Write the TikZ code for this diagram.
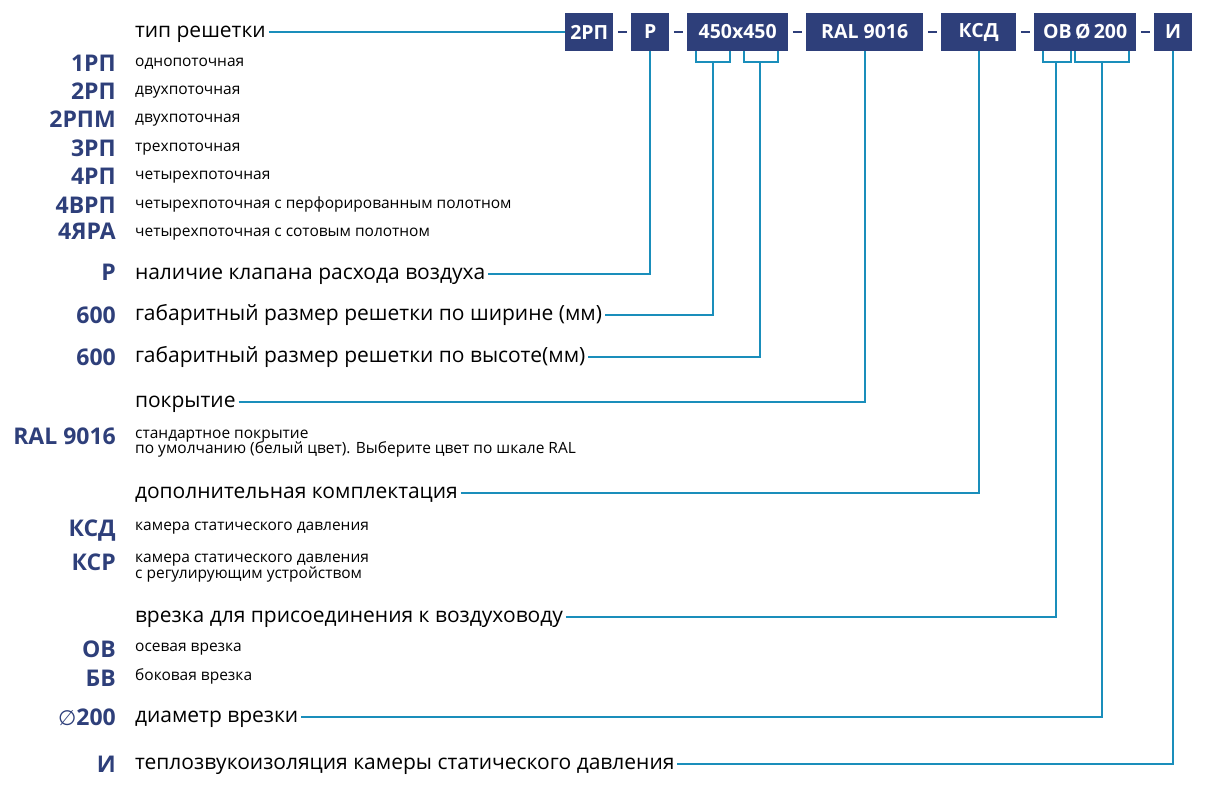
\documentclass[tikz,border=0pt]{standalone}
\usepackage{fontspec}
\setmainfont{Open Sans}
\newfontfamily\symf{DejaVu Sans}
\definecolor{navy}{HTML}{2E3F7A}
\definecolor{lnc}{HTML}{1A8EBB}
\begin{document}
\begin{tikzpicture}[x=1pt,y=-1pt,
  head/.style={anchor=west,inner sep=0pt,outer sep=3pt,text height=15pt,text depth=4pt,font=\fontsize{21}{24}\selectfont,text=black},
  code/.style={anchor=east,inner sep=0pt,text height=16.4pt,text depth=0pt,font=\fontsize{23}{25}\selectfont\bfseries,text=navy},
  desc/.style={anchor=base west,inner sep=0pt,font=\fontsize{15.5}{17}\selectfont,text=black},
  box/.style={anchor=west,fill=navy,text=white,font=\fontsize{19.5}{22}\selectfont\bfseries,minimum height=38pt,inner sep=0pt},
  conn/.style={draw=lnc,line width=1.6pt},
  sepdash/.style={draw=navy,line width=1.3pt}]
\useasboundingbox (0,0) rectangle (1218,803);

% code boxes
\node[box,minimum width=48pt]  (b1) at (565,32)  {2РП};
\node[box,minimum width=38pt]  (b2) at (631,32)  {Р};
\node[box,minimum width=101pt] (b3) at (687,32)  {450x450};
\node[box,minimum width=117pt] (b4) at (806,32)  {RAL 9016};
\node[box,minimum width=75pt]  (b5) at (941,32)  {КСД};
\node[box,minimum width=102pt] (b6) at (1034,32) {ОВ\,Ø\,200};
\node[box,minimum width=38pt]  (b7) at (1154,32) {И};
\foreach \a/\b in {b1/b2,b2/b3,b3/b4,b4/b5,b5/b6,b6/b7}
  \draw[sepdash] ([xshift=4.5pt]\a.east) -- ([xshift=-4.5pt]\b.west);

% brackets
\coordinate (k1) at (713,62);
\coordinate (k2) at (760,62);
\coordinate (k3) at (1056,62);
\coordinate (k4) at (1102,62);
\draw[conn] (696,51) -- (696,62) -- (730,62) -- (730,51);
\draw[conn] (744,51) -- (744,62) -- (778,62) -- (778,51);
\draw[conn] (1043,51) -- (1043,62) -- (1071,62) -- (1071,51);
\draw[conn] (1075,51) -- (1075,62) -- (1129,62) -- (1129,51);

% headings
\node[head] (h1) at (132,32)  {тип решетки};
\node[head] (h2) at (132,274) {наличие клапана расхода воздуха};
\node[head] (h3) at (132,315) {габаритный размер решетки по ширине (мм)};
\node[head] (h4) at (132,357) {габаритный размер решетки по высоте(мм)};
\node[head] (h5) at (132,402) {покрытие};
\node[head] (h6) at (132,493) {дополнительная комплектация};
\node[head] (h7) at (132,617) {врезка для присоединения к воздуховоду};
\node[head] (h8) at (132,717) {диаметр врезки};
\node[head] (h9) at (132,764) {теплозвукоизоляция камеры статического давления};

% connectors
\draw[conn] (h1.east) -- (b1.west);
\draw[conn] (h2.east) -| (b2.south);
\draw[conn] (h3.east) -| (k1);
\draw[conn] (h4.east) -| (k2);
\draw[conn] (h5.east) -| (b4.south);
\draw[conn] (h6.east) -| (b5.south);
\draw[conn] (h7.east) -| (k3);
\draw[conn] (h8.east) -| (k4);
\draw[conn] (h9.east) -| (b7.south);

% codes
\node[code] (c1) at (116,63)  {1РП};
\node[code] (c2) at (116,91)  {2РП};
\node[code] (c3) at (116,119) {2РПМ};
\node[code] (c4) at (116,148) {3РП};
\node[code] (c5) at (116,176) {4РП};
\node[code] (c6) at (116,205) {4ВРП};
\node[code] (c7) at (116,231) {4ЯРА};
\node[code] (c8) at (116,272) {Р};
\node[code] (c9) at (116,315) {600};
\node[code] (c10) at (116,357) {600};
\node[code] (c11) at (116,436) {RAL 9016};
\node[code] (c12) at (116,528) {КСД};
\node[code] (c13) at (116,562) {КСР};
\node[code] (c14) at (116,649) {ОВ};
\node[code] (c15) at (116,678) {БВ};
\node[code] (c16) at (116,717) {{\symf\mdseries\fontsize{21}{24}\selectfont ∅}200};
\node[code] (c17) at (116,764) {И};

% descriptions
\node[desc] (d1) at (135,66.5)  {однопоточная};
\node[desc] (d2) at (135,94.5)  {двухпоточная};
\node[desc] (d3) at (135,122.5) {двухпоточная};
\node[desc] (d4) at (135,151.5) {трехпоточная};
\node[desc] (d5) at (135,179.5) {четырехпоточная};
\node[desc] (d6) at (135,208.5) {четырехпоточная с перфорированным полотном};
\node[desc] (d7) at (135,236.5) {четырехпоточная с сотовым полотном};
\node[desc] (d8a) at (135,438) {стандартное покрытие};
\node[desc] (d8b) at (135,453) {по умолчанию (белый цвет). Выберите цвет по шкале RAL};
\node[desc] (d9) at (135,530) {камера статического давления};
\node[desc] (d10a) at (135,562) {камера статического давления};
\node[desc] (d10b) at (135,578) {с регулирующим устройством};
\node[desc] (d11) at (135,651) {осевая врезка};
\node[desc] (d12) at (135,680) {боковая врезка};
\end{tikzpicture}
\end{document}
